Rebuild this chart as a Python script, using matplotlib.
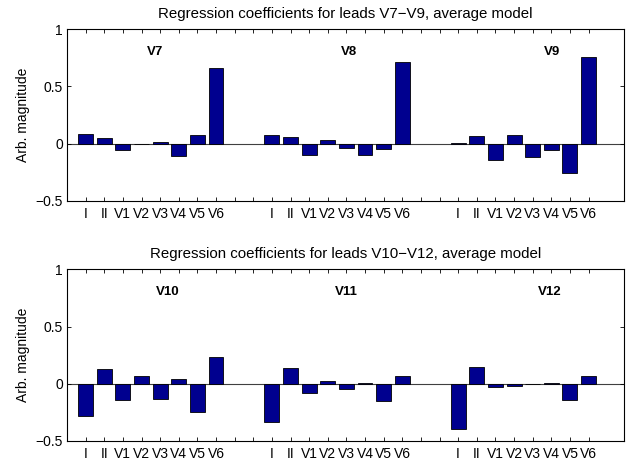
import matplotlib
matplotlib.use("Agg")
import matplotlib.pyplot as plt
import numpy as np

plt.rcParams['font.family'] = ['Liberation Sans', 'DejaVu Sans']

leads = ['I', 'II', 'V1', 'V2', 'V3', 'V4', 'V5', 'V6']

# coefficients per target lead
v7 = [0.085, 0.05, -0.052, -0.004, 0.015, -0.107, 0.08, 0.657]
v8 = [0.08, 0.061, -0.10, 0.035, -0.04, -0.10, -0.05, 0.715]
v9 = [0.01, 0.067, -0.145, 0.076, -0.113, -0.052, -0.256, 0.756]
v10 = [-0.285, 0.131, -0.14, 0.07, -0.131, 0.038, -0.245, 0.23]
v11 = [-0.338, 0.137, -0.079, 0.02, -0.05, 0.005, -0.151, 0.07]
v12 = [-0.396, 0.146, -0.032, -0.018, -0.005, 0.003, -0.143, 0.07]

panels = [
    ('Regression coefficients for leads V7\u2212V9, average model',
     [('V7', v7), ('V8', v8), ('V9', v9)], [4.3, 14.7, 25.6]),
    ('Regression coefficients for leads V10\u2212V12, average model',
     [('V10', v10), ('V11', v11), ('V12', v12)], [4.8, 14.4, 25.3]),
]

bar_color = '#00008f'

fig = plt.figure(figsize=(6.38, 4.62), dpi=100)
boxes = [[0.105, 0.565, 0.873, 0.372], [0.105, 0.0455, 0.873, 0.3715]]

for box, (title, groups, label_x) in zip(boxes, panels):
    ax = fig.add_axes(box)
    ticks = []
    ticklabels = []
    for g, (name, vals) in enumerate(groups):
        x = np.arange(1, 9) + 10 * g
        ax.bar(x, vals, width=0.8, color=bar_color, edgecolor='black',
               linewidth=0.6, zorder=2)
        ax.text(label_x[g], 0.8, name, fontsize=9.5, fontweight='bold',
                ha='left', va='center')
        ticks += list(x)
        ticklabels += leads
        if g < len(groups) - 1:
            ticks += [x[-1] + 1, x[-1] + 2]
            ticklabels += ['', '']
    ax.axhline(0, color='#404040', linewidth=0.8, zorder=1)
    ax.set_xlim(0, 29.9)
    ax.set_ylim(-0.5, 1)
    ax.set_xticks(ticks)
    ax.set_xticklabels(ticklabels)
    ax.set_yticks([-0.5, 0, 0.5, 1])
    ax.set_yticklabels(['\u22120.5', '0', '0.5', '1'])
    ax.tick_params(direction='in', top=True, right=True, length=3,
                   width=0.6, labelsize=10)
    ax.tick_params(axis='x', pad=4)
    ax.tick_params(axis='y', pad=3)
    for s in ax.spines.values():
        s.set_linewidth(0.8)
    ax.set_title(title, fontsize=10.8, pad=8)
    ax.set_ylabel('Arb. magnitude', fontsize=10, labelpad=4)

fig.savefig('out.png', dpi=100)
